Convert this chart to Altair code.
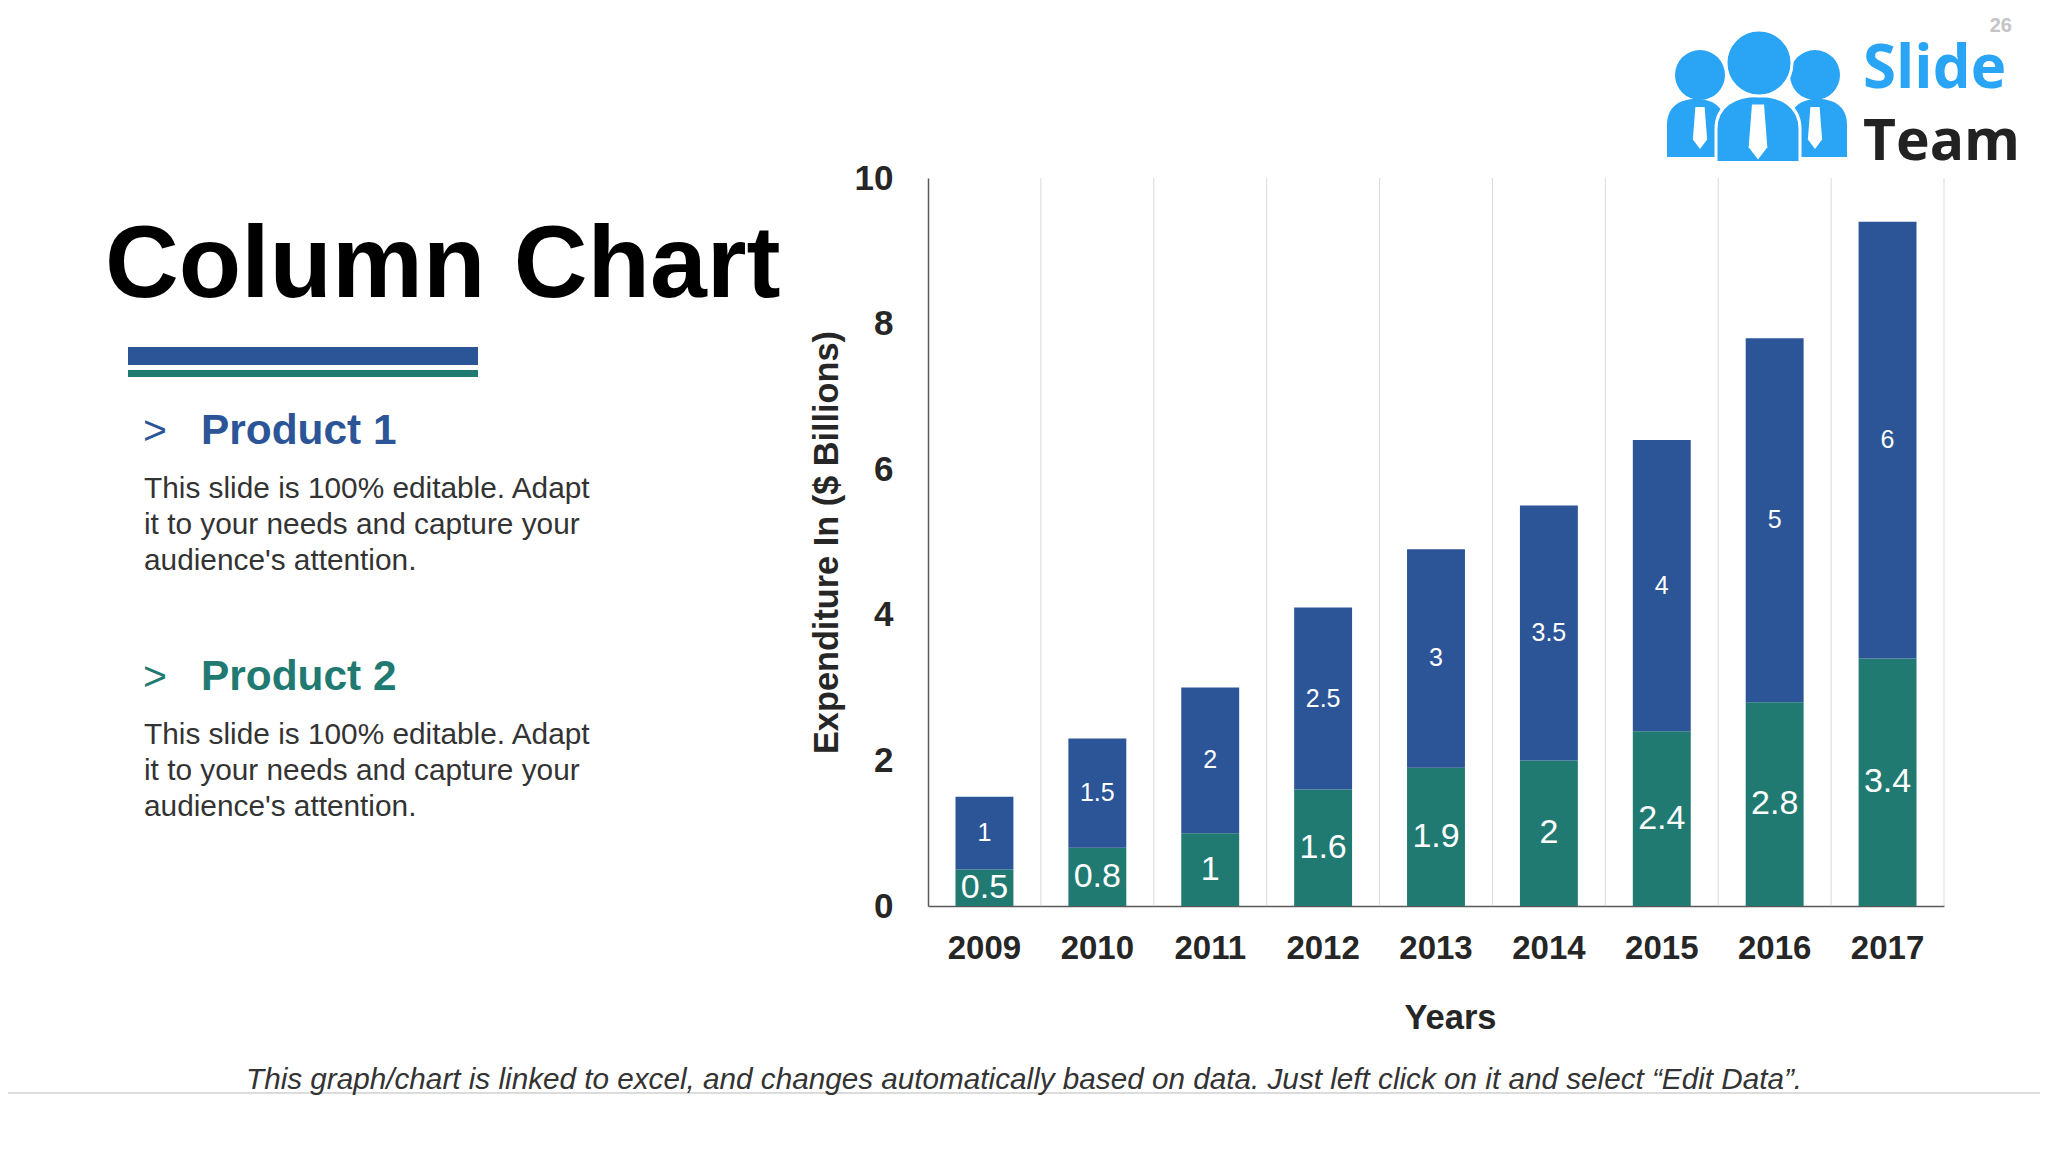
import altair as alt
import pandas as pd

# ---------------- data ----------------
years = ["2009", "2010", "2011", "2012", "2013", "2014", "2015", "2016", "2017"]
product1 = [1, 1.5, 2, 2.5, 3, 3.5, 4, 5, 6]
product2 = [0.5, 0.8, 1, 1.6, 1.9, 2, 2.4, 2.8, 3.4]
series_names = ["Product 1", "Product 2"]
y_ticks = [0, 2, 4, 6, 8, 10]

title_text = "Column Chart"
heading1 = "Product 1"
heading2 = "Product 2"
bullet = ">"
body_lines = [
    "This slide is 100% editable. Adapt",
    "it to your needs and capture your",
    "audience's attention.",
]
footer_text = ("This graph/chart is linked to excel, and changes automatically based on data. "
               "Just left click on it and select \u201cEdit Data\u201d.")
x_title = "Years"
y_title = "Expenditure In ($ Billions)"
page_no = "26"
logo_words = ["Slide", "Team"]

# ---------------- styles ----------------
FONT = "Liberation Sans"
LOGO_FONT = "Open Sans"
BLUE = "#2B5597"
TEAL = "#217A72"
LOGO = "#2AA4F4"
DARK = "#262626"
BODY = "#333333"

rows = []
for i, yr in enumerate(years):
    rows.append({"year": yr, "product": series_names[1], "value": product2[i], "ord": 0,
                 "mid": product2[i] / 2})
    rows.append({"year": yr, "product": series_names[0], "value": product1[i], "ord": 1,
                 "mid": product2[i] + product1[i] / 2})
df = pd.DataFrame(rows)
years_df = pd.DataFrame({"year": years})

P_IN = 0.487
x_scale = alt.Scale(domain=years, paddingInner=P_IN, paddingOuter=P_IN / 2)
cell_scale = alt.Scale(domain=years, paddingInner=0, paddingOuter=0)
y_scale = alt.Scale(domain=[0, 10], nice=False)

x_axis = alt.Axis(
    title=x_title, labelAngle=0, labelFont=FONT, labelFontSize=33, labelFontWeight="bold",
    labelColor=DARK, labelPadding=26, ticks=False, tickSize=0,
    domainColor="#595959", domainWidth=1.5, grid=False,
    titleFont=FONT, titleFontSize=34.5, titleFontWeight="bold", titleColor=DARK,
    titleX=522, titleY=122, titleBaseline="alphabetic",
)
y_axis = alt.Axis(
    title=y_title, values=y_ticks, grid=False, ticks=False, tickSize=0,
    labelFont=FONT, labelFontSize=35, labelFontWeight="bold", labelColor=DARK,
    labelPadding=35, domainColor="#595959", domainWidth=1.5,
    titleFont=FONT, titleFontSize=34.3, titleFontWeight="bold", titleColor=DARK,
    titleX=-91, titleY=364, titleBaseline="alphabetic", titleAngle=270,
)

# vertical separators at the right edge of every year cell
grid = alt.Chart(years_df).mark_rule(color="#D9D9D9", strokeWidth=1).encode(
    x=alt.X("year:N", sort=years, scale=cell_scale, axis=None, bandPosition=1),
    y=alt.value(0), y2=alt.value(728),
)

bars = alt.Chart(df).mark_bar().encode(
    x=alt.X("year:N", sort=years, scale=x_scale, axis=x_axis),
    y=alt.Y("value:Q", stack="zero", scale=y_scale, axis=y_axis),
    color=alt.Color("product:N", scale=alt.Scale(domain=series_names, range=[BLUE, TEAL]),
                    legend=None),
    order=alt.Order("ord:Q"),
)


def seg_labels(name, size):
    return alt.Chart(df[df["product"] == name]).mark_text(
        color="white", fontSize=size, font=FONT, baseline="middle", align="center"
    ).encode(
        x=alt.X("year:N", sort=years, scale=x_scale, axis=None),
        y=alt.Y("mid:Q", stack=None, scale=y_scale, axis=y_axis),
        text=alt.Text("value:Q", format="~g"),
    )


lab1 = seg_labels(series_names[0], 25)
lab2 = seg_labels(series_names[1], 34)


def txt(text, x, y, size, color, weight="normal", style="normal", font=FONT,
        align="left", line_height=36):
    return alt.Chart(pd.DataFrame({"t": [text]})).mark_text(
        font=font, fontSize=size, fontWeight=weight, fontStyle=style, color=color,
        align=align, baseline="alphabetic", lineBreak="\n", lineHeight=line_height,
    ).encode(x=alt.value(x), y=alt.value(y), text="t:N")


one = pd.DataFrame({"k": [0]})


def rect(x, x2, y, y2, color):
    return alt.Chart(one).mark_rect(color=color).encode(
        x=alt.value(x), x2=alt.value(x2), y=alt.value(y), y2=alt.value(y2))


def sym(path, x, y, size, fill, stroke=None, sw=0):
    kw = dict(shape=path, size=size, filled=True, fill=fill, opacity=1)
    if stroke:
        kw.update(stroke=stroke, strokeWidth=sw)
    else:
        kw.update(strokeWidth=0)
    return alt.Chart(one).mark_point(**kw).encode(x=alt.value(x), y=alt.value(y))


side_body = "M -1 1 L -1 -0.1 C -1 -0.75 -0.55 -1 0 -1 C 0.55 -1 1 -0.75 1 -0.1 L 1 1 Z"
mid_body = "M -1 0.8 L -1 0 C -1 -0.55 -0.55 -0.8 0 -0.8 C 0.55 -0.8 1 -0.55 1 0 L 1 0.8 Z"
tie = "M -0.22 -1 L 0.22 -1 L 0.34 0.55 L 0 1 L -0.34 0.55 Z"

body_text = "\n".join(body_lines)

layers = [
    grid, bars, lab1, lab2,
    # left panel
    txt(title_text, -823, 119, 102.2, "#000000", weight="bold"),
    rect(-800, -450, 169, 187, BLUE),
    rect(-800, -450, 192, 199, TEAL),
    txt(bullet, -785, 266, 41, BLUE),
    txt(heading1, -727, 266, 42.4, BLUE, weight="bold"),
    txt(body_text, -784, 320, 29.8, BODY),
    txt(bullet, -785, 512, 41, TEAL),
    txt(heading2, -727, 512, 42.4, TEAL, weight="bold"),
    txt(body_text, -784, 566, 29.8, BODY),
    # footer
    alt.Chart(one).mark_rule(color="#D0D0D0", strokeWidth=1.5).encode(
        x=alt.value(-930), x2=alt.value(1114), y=alt.value(915)),
    txt(footer_text, -682, 911, 29.7, BODY, style="italic"),
    # page number
    txt(page_no, 1084, -146, 20, "#C4C4C4", weight="bold", align="right"),
    # logo
    sym(side_body, 768, -50, 3364, LOGO),
    sym(side_body, 890, -50, 3364, LOGO),
    sym("circle", 772, -103, 2500, LOGO),
    sym("circle", 887, -103, 2500, LOGO),
    sym(mid_body, 830, -49, 7056, LOGO, "white", 3),
    sym("circle", 831, -115, 4356, LOGO, "white", 3),
    sym(tie, 772, -50, 1764, "white"),
    sym(tie, 830, -46, 3025, "white"),
    sym(tie, 887, -50, 1764, "white"),
    txt(logo_words[0], 935, -90, 60, LOGO, weight="bold", font=LOGO_FONT),
    txt(logo_words[1], 935, -18, 57, "#222222", weight="bold", font=LOGO_FONT),
]

chart = alt.layer(*layers).resolve_scale(x="independent").properties(
    width=1016, height=728,
    padding={"left": 920, "top": 170, "right": 96, "bottom": 238},
    autosize=alt.AutoSizeParams(type="none"),
    background="white",
).configure_view(stroke=None)

chart.save("out.html", embed_options={"renderer": "svg", "actions": False})
